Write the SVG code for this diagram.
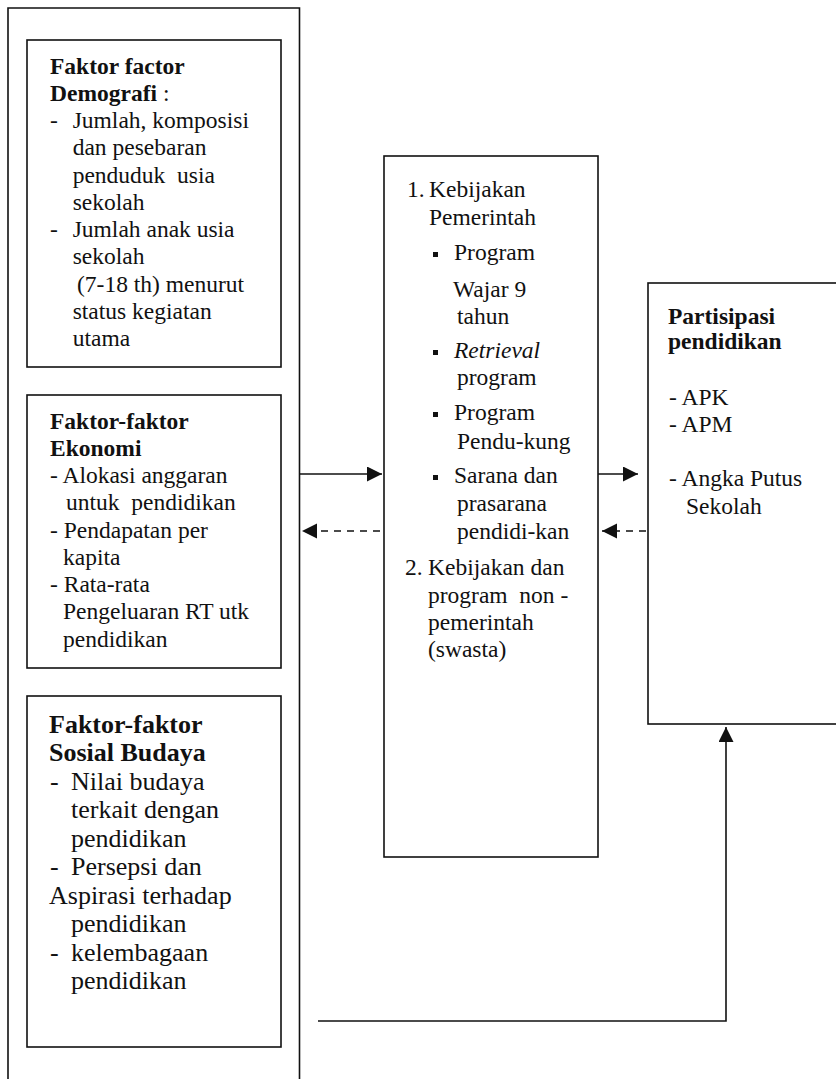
<svg xmlns="http://www.w3.org/2000/svg" width="836" height="1079" viewBox="0 0 836 1079">
<style>
.box{fill:none;stroke:#111;stroke-width:1.6}
.t{font-family:"Liberation Serif","Times New Roman",serif;font-size:23.5px;fill:#111}
.t3{font-family:"Liberation Serif","Times New Roman",serif;font-size:26px;fill:#111}
.b{font-weight:bold}
.c{stroke:#111;stroke-width:1.6;fill:none}
.d{stroke-dasharray:7 6}
.bul{fill:#111}
</style>
<defs>
<marker id="ah" markerUnits="userSpaceOnUse" markerWidth="16" markerHeight="16" refX="15" refY="7.5" orient="auto">
<path d="M0,0 L15,7.5 L0,15 Z" fill="#111"/>
</marker>
</defs>
<rect width="836" height="1079" fill="#fff"/>
<g id="outer">
<path class="box" d="M8,1082 V8 H299.5 V1082"/>
</g>
<g id="demografi">
<rect class="box" x="27" y="40" width="254" height="327"/>
<text class="t b" x="50" y="74">Faktor factor</text>
<text class="t" x="50" y="101"><tspan class="b">Demografi</tspan> :</text>
<text class="t" x="50" y="128">-</text><text class="t" x="72.7" y="128">Jumlah, komposisi</text>
<text class="t" x="72.7" y="155">dan pesebaran</text>
<text class="t" x="72.7" y="183" xml:space="preserve">penduduk  usia</text>
<text class="t" x="72.7" y="210">sekolah</text>
<text class="t" x="50" y="237">-</text><text class="t" x="72.7" y="237">Jumlah anak usia</text>
<text class="t" x="72.7" y="264">sekolah</text>
<text class="t" x="77" y="292">(7-18 th) menurut</text>
<text class="t" x="72.7" y="319">status kegiatan</text>
<text class="t" x="72.7" y="346">utama</text>
</g>
<g id="ekonomi">
<rect class="box" x="27" y="395" width="254" height="273"/>
<text class="t b" x="50" y="429">Faktor-faktor</text>
<text class="t b" x="50" y="456">Ekonomi</text>
<text class="t" x="50" y="483">- Alokasi anggaran</text>
<text class="t" x="66" y="510" xml:space="preserve">untuk  pendidikan</text>
<text class="t" x="50" y="538">- Pendapatan per</text>
<text class="t" x="63" y="565">kapita</text>
<text class="t" x="50" y="592">- Rata-rata</text>
<text class="t" x="63" y="619">Pengeluaran RT utk</text>
<text class="t" x="63" y="647">pendidikan</text>
</g>
<g id="sosial">
<rect class="box" x="27" y="696" width="254" height="351"/>
<text class="t3 b" x="49" y="733">Faktor-faktor</text>
<text class="t3 b" x="49" y="761">Sosial Budaya</text>
<text class="t3" x="50" y="790">-</text><text class="t3" x="71" y="790">Nilai budaya</text>
<text class="t3" x="71" y="818">terkait dengan</text>
<text class="t3" x="71" y="847">pendidikan</text>
<text class="t3" x="50" y="875">-</text><text class="t3" x="71" y="875">Persepsi dan</text>
<text class="t3" x="49" y="904">Aspirasi terhadap</text>
<text class="t3" x="71" y="932">pendidikan</text>
<text class="t3" x="50" y="961">-</text><text class="t3" x="71" y="961">kelembagaan</text>
<text class="t3" x="71" y="989">pendidikan</text>
</g>
<g id="kebijakan">
<rect class="box" x="384" y="156" width="214" height="701"/>
<text class="t" x="407" y="197">1.</text><text class="t" x="429" y="197">Kebijakan</text>
<text class="t" x="429" y="225">Pemerintah</text>
<rect class="bul" x="433" y="252" width="5" height="5"/>
<text class="t" x="454" y="260">Program</text>
<text class="t" x="453" y="297">Wajar 9</text>
<text class="t" x="457" y="324">tahun</text>
<rect class="bul" x="433" y="350" width="5" height="5"/>
<text class="t" x="454" y="358" font-style="italic">Retrieval</text>
<text class="t" x="457" y="385">program</text>
<rect class="bul" x="433" y="412" width="5" height="5"/>
<text class="t" x="454" y="420">Program</text>
<text class="t" x="457" y="449">Pendu-kung</text>
<rect class="bul" x="433" y="475" width="5" height="5"/>
<text class="t" x="454" y="483">Sarana dan</text>
<text class="t" x="457" y="511">prasarana</text>
<text class="t" x="457" y="539">pendidi-kan</text>
<text class="t" x="405" y="575">2.</text><text class="t" x="428" y="575">Kebijakan dan</text>
<text class="t" x="428" y="603" xml:space="preserve">program  non -</text>
<text class="t" x="428" y="630">pemerintah</text>
<text class="t" x="428" y="657">(swasta)</text>
</g>
<g id="partisipasi">
<rect class="box" x="648" y="283" width="200" height="441"/>
<text class="t b" x="668" y="324">Partisipasi</text>
<text class="t b" x="668" y="349">pendidikan</text>
<text class="t" x="669" y="405">- APK</text>
<text class="t" x="669" y="432">- APM</text>
<text class="t" x="669" y="486">- Angka Putus</text>
<text class="t" x="686" y="514">Sekolah</text>
</g>
<g id="connectors">
<line class="c" x1="300" y1="474" x2="382" y2="474" marker-end="url(#ah)"/>
<line class="c d" x1="380" y1="531" x2="302" y2="531" marker-end="url(#ah)"/>
<line class="c" x1="598" y1="474" x2="638" y2="474" marker-end="url(#ah)"/>
<line class="c d" x1="646" y1="531" x2="602" y2="531" marker-end="url(#ah)"/>
<path class="c" d="M318,1021 H726 V727" marker-end="url(#ah)"/>
</g>
</svg>
